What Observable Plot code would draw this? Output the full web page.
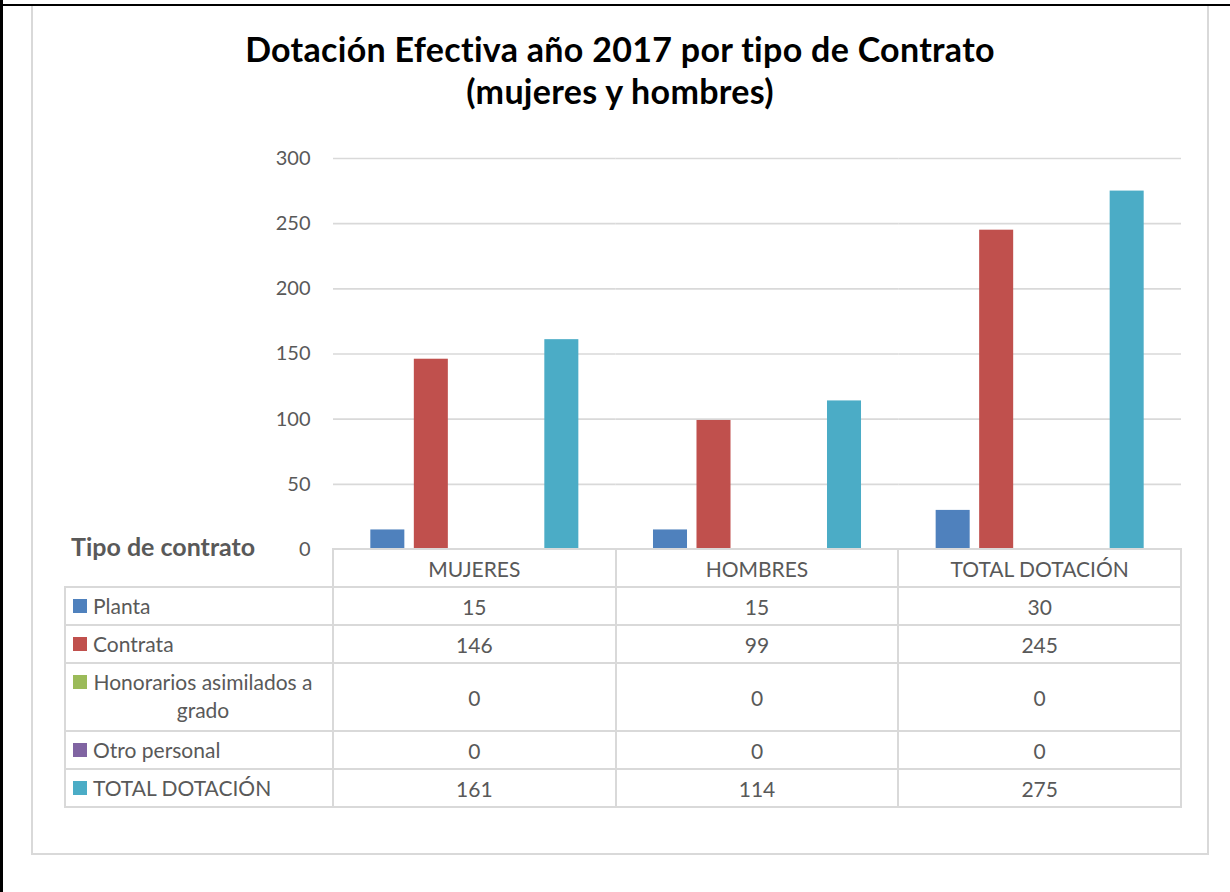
<!DOCTYPE html>
<html>
<head>
<meta charset="utf-8">
<script src="https://cdn.jsdelivr.net/npm/d3@7"></script>
<script src="https://cdn.jsdelivr.net/npm/@observablehq/plot@0.6"></script>
<style>
  html, body { margin: 0; padding: 0; background: #fff; }
  #page { position: relative; width: 1230px; height: 892px; overflow: hidden; font-family: Lato, "Open Sans", sans-serif; }
  .abs { position: absolute; }
  .hline { position: absolute; height: 2px; background: #d9d9d9; }
  .vline { position: absolute; width: 2px; background: #d9d9d9; }
  .cell { position: absolute; display: flex; align-items: center; justify-content: center; color: #595959; font-size: 21px; }
</style>
</head>
<body>
<div id="page">
  <div class="abs" style="left:0;top:0;width:3px;height:892px;background:#000"></div>
  <div class="abs" style="left:0;top:4px;width:1230px;height:2px;background:#000"></div>
  <div class="abs" style="left:31px;top:6px;width:1178px;height:849px;box-sizing:border-box;border:2px solid #d9d9d9;border-top:none"></div>
  <div id="title" class="abs" style="left:31px;top:28px;width:1178px;text-align:center;font-weight:700;font-size:34px;letter-spacing:0.3px;line-height:42px;color:#000">Dotación Efectiva año 2017 por tipo de Contrato<br>(mujeres y hombres)</div>
  <div id="chart" class="abs" style="left:0;top:140px"></div>
</div>
<script>
const categories = ["MUJERES", "HOMBRES", "TOTAL DOTACIÓN"];
const seriesNames = ["Planta", "Contrata", "Honorarios asimilados a grado", "Otro personal", "TOTAL DOTACIÓN"];
const planta = [15, 15, 30];
const contrata = [146, 99, 245];
const honorarios = [0, 0, 0];
const otroPersonal = [0, 0, 0];
const totalDotacion = [161, 114, 275];
const seriesColors = ["#4f81bd", "#c0504d", "#9bbb59", "#8064a2", "#4bacc6"];
const yTicks = [0, 50, 100, 150, 200, 250, 300];
const tableHeading = "Tipo de contrato";

const seriesValues = [planta, contrata, honorarios, otroPersonal, totalDotacion];
const data = seriesNames.flatMap((s, i) => categories.map((c, j) => ({series: s, category: c, value: seriesValues[i][j]})));

const chart = Plot.plot({
  width: 1230,
  height: 420,
  marginLeft: 333,
  marginRight: 49,
  marginTop: 18,
  marginBottom: 11,
  fx: {domain: categories, padding: 0, round: false, axis: null},
  x: {domain: seriesNames, paddingInner: 0.218, paddingOuter: 0.858, round: false, axis: null},
  y: {domain: [0, 300], axis: null},
  color: {domain: seriesNames, range: seriesColors},
  style: {fontFamily: "Lato, 'Open Sans', sans-serif", fontSize: "20px", background: "transparent", color: "#595959"},
  marks: [
    Plot.gridY(yTicks.filter(d => d > 0), {stroke: "#d9d9d9", strokeOpacity: 1, strokeWidth: 1.6}),
    Plot.barY(data, {fx: "category", x: "series", y: "value", fill: "series"}),
    Plot.axisY(yTicks, {tickSize: 0, tickPadding: 23, fill: "#595959", label: null, fontSize: 20})
  ]
});
document.getElementById("chart").appendChild(chart);

// table
const page = document.getElementById("page");
const colX = [65, 333, 615.67, 898.33, 1181];
const headerTop = 549;
const rowHeights = [38, 38, 68, 38, 38];
const rowTops = [];
let yy = 587;
for (const h of rowHeights) { rowTops.push(yy); yy += h; }
const tableBottom = yy;

function el(cls, style, html) {
  const d = document.createElement("div");
  d.className = cls;
  Object.assign(d.style, style);
  if (html != null) d.innerHTML = html;
  page.appendChild(d);
  return d;
}
// horizontal lines
el("hline", {left: colX[1] + "px", top: (headerTop - 1) + "px", width: (colX[4] - colX[1] + 1) + "px"});
[587, ...rowTops.slice(1), tableBottom].forEach(t => el("hline", {left: colX[0] + "px", top: (t - 1) + "px", width: (colX[4] - colX[0] + 1) + "px"}));
// vertical lines
el("vline", {left: (colX[0] - 1) + "px", top: "586px", height: (tableBottom - 586 + 1) + "px"});
colX.slice(1).forEach(x => el("vline", {left: (x - 1) + "px", top: (headerTop - 1) + "px", height: (tableBottom - headerTop + 2) + "px"}));

// header labels
categories.forEach((c, j) => el("cell", {left: colX[j + 1] + "px", top: headerTop + "px", width: (colX[j + 2] - colX[j + 1]) + "px", height: "38px"}, c));
// heading
el("abs", {left: "71px", top: "531px", fontSize: "25px", fontWeight: "700", color: "#595959", lineHeight: "30px", whiteSpace: "nowrap"}, tableHeading);

// rows
seriesNames.forEach((s, i) => {
  const top = rowTops[i], h = rowHeights[i];
  const multi = h > 40;
  const lab = el("abs", {left: "73px", top: (top + (multi ? 5 : 0)) + "px", width: "258px", height: (multi ? h - 5 : h) + "px", display: "flex", alignItems: multi ? "flex-start" : "center", color: "#595959", fontSize: "21px"});
  lab.innerHTML = `<span style="display:inline-block;width:14px;height:14px;background:${seriesColors[i]};margin-right:6px;flex:none;${multi ? 'margin-top:7px;' : ''}"></span><span class="lt" style="display:inline-block;max-width:238px;text-align:center;line-height:${multi ? 28 : 24}px">${s}</span>`;
  const t = lab.querySelector(".lt");
  const range = document.createRange();
  range.selectNodeContents(t);
  const rects = [...range.getClientRects()];
  if (rects.length > 1) {
    const w = Math.max(...rects.map(r => r.width));
    t.style.width = Math.ceil(w) + "px";
  }
  categories.forEach((c, j) => el("cell", {left: colX[j + 1] + "px", top: top + "px", width: (colX[j + 2] - colX[j + 1]) + "px", height: h + "px"}, String(seriesValues[i][j])));
});
</script>
</body>
</html>
